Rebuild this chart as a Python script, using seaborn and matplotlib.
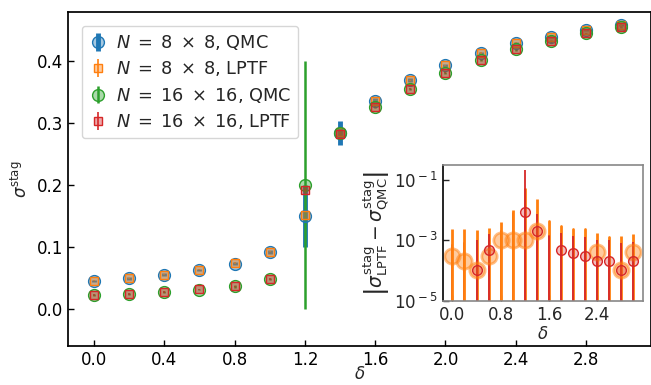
import numpy as np
import matplotlib
matplotlib.use('Agg')
import matplotlib.pyplot as plt
from matplotlib.colors import to_rgba
from matplotlib.ticker import MultipleLocator, FixedLocator, FixedFormatter, NullLocator
import seaborn as sns

# delta values shared by all series
delta = [0.0, 0.2, 0.4, 0.6, 0.8, 1.0, 1.2, 1.4, 1.6, 1.8, 2.0, 2.2, 2.4, 2.6, 2.8, 3.0]

# staggered magnetization, main panel
qmc_8 = [0.045, 0.0495, 0.0553, 0.0629, 0.073, 0.0914, 0.1505, 0.284,
         0.335, 0.369, 0.393, 0.413, 0.429, 0.439, 0.450, 0.458]
qmc_8_err = [0.002, 0.002, 0.002, 0.002, 0.002, 0.003, 0.05, 0.02,
             0.005, 0.003, 0.003, 0.002, 0.002, 0.002, 0.002, 0.002]
lptf_8 = [0.0453, 0.0497, 0.0554, 0.0632, 0.074, 0.0924, 0.1515, 0.286,
          0.335, 0.369, 0.393, 0.413, 0.4294, 0.439, 0.4501, 0.4584]
lptf_8_err = [0.001, 0.001, 0.001, 0.001, 0.001, 0.001, 0.002, 0.002,
              0.001, 0.001, 0.001, 0.001, 0.001, 0.001, 0.001, 0.001]
qmc_16 = [0.0226, 0.024, 0.0274, 0.031, 0.0366, 0.0484, 0.200, 0.284,
          0.326, 0.355, 0.381, 0.402, 0.419, 0.432, 0.445, 0.455]
qmc_16_err = [0.001, 0.001, 0.001, 0.001, 0.002, 0.002, 0.2, 0.005,
              0.002, 0.002, 0.002, 0.002, 0.002, 0.002, 0.001, 0.001]
lptf_16 = [0.0226, 0.024, 0.0275, 0.0315, 0.0366, 0.0484, 0.1914, 0.282,
           0.326, 0.3555, 0.3814, 0.4023, 0.4192, 0.4322, 0.4451, 0.4552]
lptf_16_err = [0.001, 0.001, 0.001, 0.001, 0.001, 0.001, 0.002, 0.002,
               0.001, 0.001, 0.001, 0.001, 0.001, 0.001, 0.001, 0.001]

# inset: |LPTF - QMC| (0 = below the axis range)
diff_8 = [3.0e-4, 2.0e-4, 1.0e-4, 3.0e-4, 1.0e-3, 1.0e-3, 1.0e-3, 2.0e-3,
          0.0, 0.0, 0.0, 0.0, 4.0e-4, 0.0, 1.0e-4, 4.0e-4]
diff_8_err = [2.0e-3, 2.1e-3, 2.0e-3, 2.2e-3, 2.9e-3, 8.8e-3, 5.3e-2, 2.1e-2,
              4.4e-3, 2.9e-3, 2.3e-3, 2.3e-3, 1.3e-3, 1.3e-3, 1.25e-3, 1.2e-3]
diff_16 = [0.0, 0.0, 1.0e-4, 4.9e-4, 0.0, 0.0, 8.6e-3, 2.0e-3,
           0.0, 4.9e-4, 3.9e-4, 3.0e-4, 2.0e-4, 2.0e-4, 1.0e-4, 2.0e-4]
diff_16_err = [7e-4, 8.1e-4, 9e-4, 1.1e-3, 2.0e-3, 7.6e-3, 0.2, 5.2e-3,
               1.4e-3, 1.2e-3, 1.0e-3, 1.0e-3, 8e-4, 8e-4, 7.1e-4, 6.6e-4]

inset_yticks = [1e-5, 1e-3, 1e-1]
inset_ylabels = [r'$10^{{}-5}$', r'$10^{{}-3}$', r'$10^{{}-1}$']

sns.set_theme(style='ticks', rc={'xtick.direction': 'in', 'ytick.direction': 'in'})
plt.rcParams['font.family'] = ['DejaVu Sans']
plt.rcParams['mathtext.fontset'] = 'dejavusans'
fs = 12

pal = sns.color_palette('tab10')
blue, orange, green, red = pal[0], pal[1], pal[2], pal[3]

fig = plt.figure(figsize=(6.51, 3.85), dpi=100)
ax = fig.add_axes([0.104, 0.101, 0.896, 0.869])

ax.errorbar(delta, qmc_8, yerr=qmc_8_err, fmt='o', ms=8.5, color=blue, elinewidth=3.5,
            mfc=to_rgba(blue, 0.4), mec=blue, mew=1.0, label=r'$N\;=\;8\;\times\;8$, QMC')
ax.errorbar(delta, lptf_8, yerr=lptf_8_err, fmt='s', ms=5.5, color=orange, elinewidth=1.2,
            mfc=to_rgba(orange, 0.4), mec=orange, mew=1.0, label=r'$N\;=\;8\;\times\;8$, LPTF')
ax.errorbar(delta, qmc_16, yerr=qmc_16_err, fmt='o', ms=8.5, color=green, elinewidth=1.8,
            mfc=to_rgba(green, 0.4), mec=green, mew=1.0, label=r'$N\;=\;16\;\times\;16$, QMC')
ax.errorbar(delta, lptf_16, yerr=lptf_16_err, fmt='s', ms=5.5, color=red, elinewidth=1.2,
            mfc=to_rgba(red, 0.4), mec=red, mew=1.0, label=r'$N\;=\;16\;\times\;16$, LPTF')

ax.set_xlim(-0.15, 3.17)
ax.set_ylim(-0.06, 0.48)
ax.xaxis.set_major_locator(MultipleLocator(0.4))
ax.yaxis.set_major_locator(MultipleLocator(0.1))
ax.tick_params(labelsize=fs, length=4, width=1, colors='black')
ax.set_xlabel(r'$\delta$', fontsize=fs, labelpad=-3)
ax.set_ylabel(r'$\sigma^{\mathrm{stag}}$', fontsize=fs)
for s in ax.spines.values():
    s.set_color('black')
ax.legend(loc='upper left', fontsize=12.8, handlelength=1.0, handletextpad=0.5,
          borderaxespad=0.8, labelspacing=0.42, framealpha=0.8, edgecolor='#cccccc')

# inset
axi = fig.add_axes([0.681, 0.219, 0.306, 0.352])
d8 = np.array(diff_8)
d16 = np.array(diff_16)
axi.errorbar(delta, np.where(d8 > 0, d8, np.nan), yerr=diff_8_err, fmt='o', ms=11, color=orange,
             elinewidth=2.0, mfc=to_rgba(orange, 0.4), mec=to_rgba(orange, 0.5), mew=2.0)
axi.errorbar(delta, np.where(d16 > 0, d16, np.nan), yerr=diff_16_err, fmt='o', ms=7, color=red,
             elinewidth=1.3, mfc=to_rgba(red, 0.3), mec=red, mew=1.0)
# error bars of points below the range still start at the bottom
for x, v, e in zip(delta, diff_8, diff_8_err):
    if v <= 0:
        axi.plot([x, x], [1e-7, e], color=orange, lw=2.0, zorder=1)
for x, v, e in zip(delta, diff_16, diff_16_err):
    if v <= 0:
        axi.plot([x, x], [1e-7, e], color=red, lw=1.3, zorder=1)

axi.set_yscale('log')
axi.set_xlim(-0.15, 3.15)
axi.set_ylim(1e-5, 0.3)
axi.xaxis.set_major_locator(MultipleLocator(0.8))
axi.yaxis.set_major_locator(FixedLocator(inset_yticks))
axi.yaxis.set_major_formatter(FixedFormatter(inset_ylabels))
axi.yaxis.set_minor_locator(NullLocator())
axi.tick_params(labelsize=fs, length=4, width=1)
axi.set_xlabel(r'$\delta$', fontsize=fs, labelpad=1)
axi.set_ylabel(r'$\left|\sigma^{\mathrm{stag}}_{\mathrm{LPTF}} - \sigma^{\mathrm{stag}}_{\mathrm{QMC}}\right|$',
               fontsize=13.5, labelpad=2)
for name, s in axi.spines.items():
    s.set_color('black' if name == 'left' else '#888888')
    s.set_linewidth(1.2)

fig.savefig('out.png', dpi=100)
